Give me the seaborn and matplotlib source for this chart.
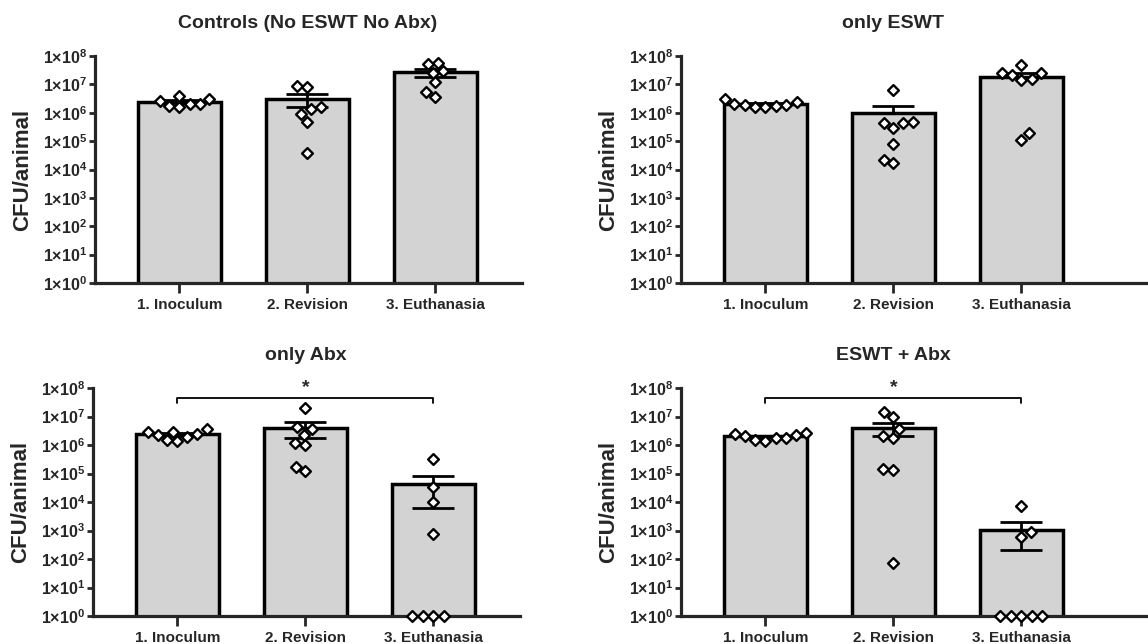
import numpy as np
import pandas as pd
import matplotlib
matplotlib.use("Agg")
import matplotlib.pyplot as plt
import matplotlib.ticker as mticker
import seaborn as sns

STAGES = ["1. Inoculum", "2. Revision", "3. Euthanasia"]
TITLES = ["Controls (No ESWT No Abx)", "only ESWT", "only Abx", "ESWT + Abx"]

# CFU/animal per animal (0 = no growth, shown on the axis floor)
ctrl_inoc = [3.9e6, 1.74e6, 3.1e6, 2.04e6, 2.5e6, 1.66e6, 2.1e6]
ctrl_rev = [7.9e6, 9.1e6, 1.36e6, 1.56e6, 9.1e5, 4.7e5, 3.7e4]
ctrl_euth = [5.8e7, 5.2e7, 2.96e7, 2.6e7, 1.18e7, 5.5e6, 3.7e6]

eswt_inoc = [1.9e6, 3.1e6, 1.78e6, 2.3e6, 1.6e6, 2.0e6, 1.66e6, 1.9e6]
eswt_rev = [6.3e6, 4.7e5, 4.4e5, 3.0e5, 4.2e5, 8.0e4, 1.66e4, 2.2e4]
eswt_euth = [2.45e7, 1.55e7, 5.0e7, 2.1e7, 1.44e7, 2.45e7, 1.1e5, 1.9e5]

abx_inoc = [1.86e6, 2.95e6, 2.3e6, 2.75e6, 3.5e6, 1.4e6, 2.5e6, 1.45e6]
abx_rev = [2.0e7, 2.3e6, 4.2e6, 3.5e6, 1.04e6, 1.15e6, 1.2e5, 1.7e5]
abx_euth = [3.1e5, 3.3e4, 1.0e4, 770, 0, 0, 0, 0]

combo_inoc = [1.78e6, 2.6e6, 2.0e6, 2.5e6, 1.4e6, 2.3e6, 1.55e6, 1.78e6]
combo_rev = [1.0e7, 1.4e7, 3.5e6, 1.74e6, 2.1e6, 1.45e5, 1.3e5, 74]
combo_euth = [7.1e3, 590, 880, 0, 0, 0, 0, 0]

groups = [
    (ctrl_inoc, ctrl_rev, ctrl_euth),
    (eswt_inoc, eswt_rev, eswt_euth),
    (abx_inoc, abx_rev, abx_euth),
    (combo_inoc, combo_rev, combo_euth),
]
upper_only = [False, True, False, False]
signif = [False, False, True, True]

sns.set_style("ticks")
plt.rcParams["font.family"] = ["Liberation Sans", "DejaVu Sans"]
plt.rcParams["font.weight"] = "bold"
plt.rcParams["mathtext.fontset"] = "custom"
plt.rcParams["mathtext.rm"] = "Liberation Sans:bold"
plt.rcParams["mathtext.it"] = "Liberation Sans:bold"
plt.rcParams["mathtext.bf"] = "Liberation Sans:bold"

W, H = 1148, 644
fig = plt.figure(figsize=(W / 100, H / 100), dpi=100)

# axes boxes in pixels: left, top, width, height
boxes = [(95, 56, 427, 227), (681, 56, 467, 227),
         (93, 388, 427, 228), (681, 388, 467, 228)]

for i, (l, t, w, h) in enumerate(boxes):
    ax = fig.add_axes([l / W, 1 - (t + h) / H, w / W, h / H])
    ax.set_yscale("log")

    df = pd.DataFrame({
        "stage": np.repeat(STAGES, [len(v) for v in groups[i]]),
        "cfu": np.concatenate(groups[i]),
    })
    df["shown"] = df["cfu"].clip(lower=1)
    summ = df.groupby("stage", sort=False)["cfu"].agg(["mean", "sem"]).reset_index()

    sns.barplot(data=summ, x="stage", y="mean", order=STAGES, errorbar=None,
                color="#d3d3d3", saturation=1, width=0.65,
                edgecolor="black", linewidth=2.5, ax=ax, zorder=2)
    lower = np.zeros(3) if upper_only[i] else summ["sem"].values
    ax.errorbar(np.arange(3), summ["mean"], yerr=[lower, summ["sem"].values],
                fmt="none", ecolor="black", elinewidth=2.0, capsize=15,
                capthick=2.0, zorder=3)
    sns.swarmplot(data=df, x="stage", y="shown", order=STAGES, marker="D",
                  size=5.5, color="white", edgecolor="black", linewidth=1.7,
                  ax=ax, zorder=5, clip_on=False)

    ax.set_ylim(1, 1e8)
    ax.set_xlim(-0.66, (w / 128.0) - 0.66)
    ax.yaxis.set_major_locator(mticker.FixedLocator([10.0 ** k for k in range(9)]))
    ax.yaxis.set_minor_locator(mticker.NullLocator())
    ax.set_yticklabels(["1×10$^{%d}$" % k for k in range(9)])
    ax.tick_params(axis="y", labelsize=11.5, length=4, width=2, pad=1.5)
    ax.tick_params(axis="x", labelsize=11, length=7, width=2, pad=4)
    for lab in ax.get_xticklabels() + ax.get_yticklabels():
        lab.set_fontweight("bold")
    for side in ["left", "bottom"]:
        ax.spines[side].set_linewidth(2.3)
    sns.despine(ax=ax)

    ax.set_xlabel("")
    ax.set_ylabel("CFU/animal", fontsize=16, fontweight="bold")
    ax.yaxis.set_label_coords(-62 / w, 0.5)

    trans = matplotlib.transforms.blended_transform_factory(ax.transData, ax.transAxes)
    ax.text(1, 1 + 32 / h, TITLES[i], transform=trans, ha="center", va="center",
            fontsize=14, fontweight="bold")

    if signif[i]:
        ax.plot([0, 0, 2, 2], [10 ** 7.47, 10 ** 7.65, 10 ** 7.65, 10 ** 7.47],
                color="black", lw=1.3, clip_on=False, zorder=6)
        ax.text(1, 10 ** 7.72, "*", ha="center", va="bottom", fontsize=14,
                fontweight="bold", clip_on=False)

fig.savefig("out.png", dpi=100)
